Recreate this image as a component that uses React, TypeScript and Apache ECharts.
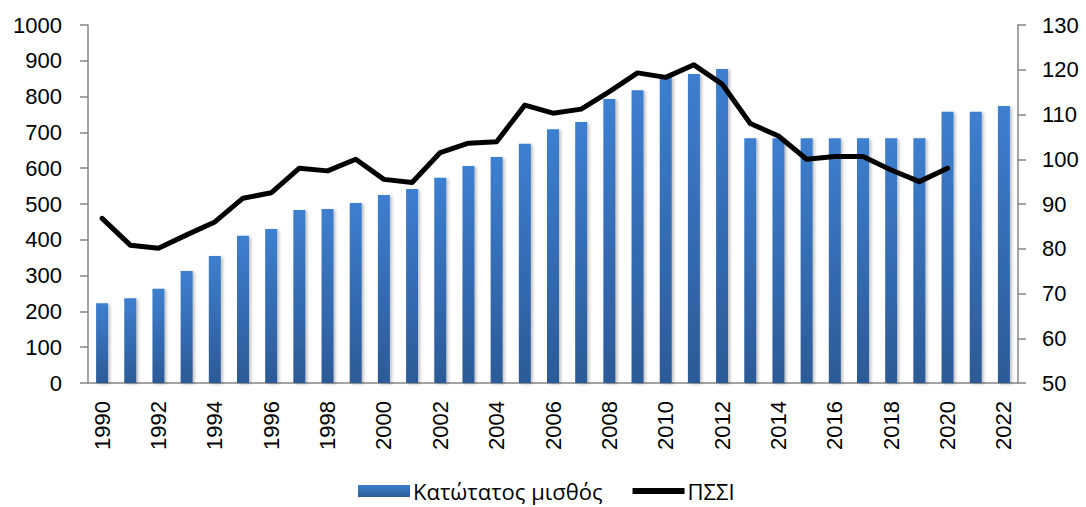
import React, { useEffect, useRef } from "react";
import * as echarts from "echarts";

const years = [
  "1990", "1991", "1992", "1993", "1994", "1995", "1996", "1997", "1998", "1999",
  "2000", "2001", "2002", "2003", "2004", "2005", "2006", "2007", "2008", "2009",
  "2010", "2011", "2012", "2013", "2014", "2015", "2016", "2017", "2018", "2019",
  "2020", "2021", "2022",
];

const minWage = [
  223, 237, 263, 313, 355, 411, 430, 483, 486, 503,
  525, 542, 573, 606, 631, 668, 709, 729, 793, 818,
  855, 863, 877, 684, 684, 684, 684, 684, 684, 684,
  758, 758, 774,
];

const pssi = [
  86.8, 80.8, 80.1, 83.1, 86.0, 91.3, 92.5, 98.0, 97.4, 100.0,
  95.5, 94.8, 101.5, 103.6, 103.9, 112.1, 110.3, 111.2, 115.1, 119.3,
  118.3, 121.1, 116.8, 108.0, 105.2, 100.0, 100.6, 100.6, 97.6, 95.0,
  98.0,
];

const leftTicks = { min: 0, max: 1000, interval: 100 };
const rightTicks = { min: 50, max: 130, interval: 10 };

const FONT = "Liberation Sans";

export default function App() {
  const ref = useRef<HTMLDivElement>(null);

  useEffect(() => {
    if (!ref.current) return;
    const chart = echarts.init(ref.current, undefined, { renderer: "svg" });
    const axisLineStyle = { color: "#868686", width: 1.5 };
    chart.setOption({
      animation: false,
      backgroundColor: "#ffffff",
      textStyle: { fontFamily: FONT },
      grid: { left: 88, right: 68, top: 25, bottom: 124, containLabel: false },
      legend: {
        bottom: 0,
        left: 353,
        itemWidth: 52,
        itemHeight: 12,
        itemGap: 30,
        textStyle: { fontFamily: "Open Sans", fontSize: 22, color: "#000", padding: [0, 0, 0, -2] },
        data: [
          { name: "Κατώτατος μισθός", icon: "rect" },
          {
            name: "ΠΣΣΙ",
            icon: "path://M0,0 L52,0 L52,6 L0,6 Z",
            itemStyle: { color: "#000", borderWidth: 0 },
          },
        ],
      },
      xAxis: {
        type: "category",
        data: years,
        axisLine: { lineStyle: axisLineStyle },
        axisTick: { show: false },
        axisLabel: {
          interval: 1,
          rotate: 90,
          margin: 18,
          fontSize: 22,
          color: "#000",
          fontFamily: FONT,
        },
      },
      yAxis: [
        {
          type: "value",
          ...leftTicks,
          position: "left",
          splitLine: { show: false },
          axisLine: { show: true, lineStyle: axisLineStyle },
          axisTick: { show: true, length: 8, lineStyle: axisLineStyle },
          axisLabel: {
            fontSize: 22,
            color: "#000",
            margin: 26,
            fontFamily: FONT,
            formatter: (v: number) => String(v),
          },
        },
        {
          type: "value",
          ...rightTicks,
          position: "right",
          splitLine: { show: false },
          axisLine: { show: true, lineStyle: axisLineStyle },
          axisTick: { show: true, length: 8, lineStyle: axisLineStyle },
          axisLabel: {
            fontSize: 22,
            color: "#000",
            margin: 24,
            fontFamily: FONT,
            formatter: (v: number) => String(v),
          },
        },
      ],
      series: [
        {
          name: "Κατώτατος μισθός",
          type: "bar",
          yAxisIndex: 0,
          data: minWage,
          barWidth: 12,
          itemStyle: {
            color: new echarts.graphic.LinearGradient(0, 0, 0, 1, [
              { offset: 0, color: "#3D7FD0" },
              { offset: 1, color: "#2C5A97" },
            ]),
            shadowColor: "rgba(0,0,0,0.25)",
            shadowBlur: 3,
            shadowOffsetX: 2,
            shadowOffsetY: 1,
          },
        },
        {
          name: "ΠΣΣΙ",
          type: "line",
          yAxisIndex: 1,
          data: pssi,
          symbol: "none",
          z: 5,
          lineStyle: { color: "#000", width: 5, join: "round", cap: "round" },
          itemStyle: { color: "#000" },
        },
      ],
    });
    return () => chart.dispose();
  }, []);

  return (
    <div
      ref={ref}
      style={{ position: "fixed", left: 0, top: 0, width: 1086, height: 507 }}
    />
  );
}
